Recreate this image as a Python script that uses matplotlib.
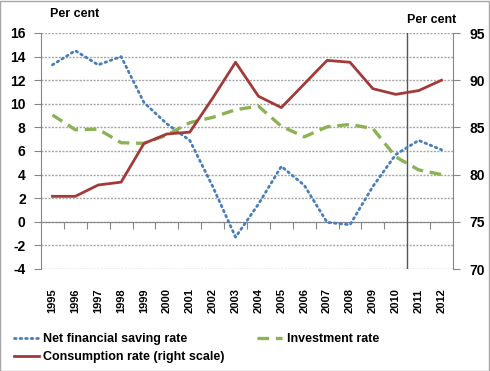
import matplotlib
matplotlib.use("Agg")
import matplotlib.pyplot as plt
from matplotlib.patches import Rectangle
import numpy as np

plt.rcParams['font.family'] = ['Liberation Sans', 'DejaVu Sans']

years = ["1995", "1996", "1997", "1998", "1999", "2000", "2001", "2002", "2003",
         "2004", "2005", "2006", "2007", "2008", "2009", "2010", "2011", "2012"]
net_saving = [13.3, 14.5, 13.3, 14.0, 10.1, 8.3, 6.9, 3.0, -1.3, 1.5, 4.7, 3.1,
              -0.05, -0.25, 3.0, 5.7, 6.9, 6.1]
investment = [9.05, 7.8, 7.85, 6.7, 6.65, 7.35, 8.4, 8.85, 9.5, 9.8, 8.1, 7.2,
              8.05, 8.25, 7.9, 5.5, 4.4, 4.0]
consumption = [77.7, 77.7, 78.9, 79.2, 83.3, 84.3, 84.5, 88.1, 91.9, 88.3, 87.1,
               89.6, 92.1, 91.9, 89.1, 88.5, 88.9, 90.0]
left_ticks = [-4, -2, 0, 2, 4, 6, 8, 10, 12, 14, 16]
right_ticks = [70, 75, 80, 85, 90, 95]

C_BLUE = "#4a7ebb"
C_GREEN = "#8db255"
C_RED = "#a33a3a"
C_AXIS = "#868686"
C_GRID = "#a6a6a6"

fig = plt.figure(figsize=(4.9, 3.71), dpi=100)
ax = fig.add_axes([41/490, (371-269)/371, (453-41)/490, (269-33)/371])
ax2 = ax.twinx()

x = np.arange(len(years))

ax.set_xlim(-0.5, len(years) - 0.5)
ax.set_ylim(-4, 16)
ax2.set_ylim(70, 95)

for t in left_ticks:
    ax.axhline(t, color=C_GRID, lw=1.0, ls=(0, (1.5, 1)), zorder=0)

ln1, = ax.plot(x, net_saving, color=C_BLUE, lw=2.0, ls=(0, (0.6, 1.4)),
               dash_capstyle='round', label="Net financial saving rate", zorder=3)
ln2, = ax.plot(x, investment, color=C_GREEN, lw=2.4, ls=(0, (3.5, 2)),
               label="Investment rate", zorder=3)
ln3, = ax2.plot(x, consumption, color=C_RED, lw=2.0,
                label="Consumption rate (right scale)", zorder=3)

# vertical separator between 2010 and 2011
ax.axvline(15.5, color="#555555", lw=1.0, zorder=2)

# spines
for a in (ax, ax2):
    a.spines['top'].set_visible(False)
    a.spines['bottom'].set_visible(False)
ax.spines['left'].set_color(C_AXIS)
ax.spines['right'].set_visible(False)
ax2.spines['left'].set_visible(False)
ax2.spines['right'].set_color(C_AXIS)

ax.set_yticks(left_ticks)
ax.set_yticklabels([str(t) for t in left_ticks], fontsize=10, fontweight='bold')
ax.tick_params(axis='y', direction='out', length=5, color=C_AXIS, pad=6)
ax2.set_yticks(right_ticks)
ax2.set_yticklabels([str(t) for t in right_ticks], fontsize=10, fontweight='bold')
ax2.tick_params(axis='y', direction='out', length=5, color=C_AXIS, pad=7)

ax.set_xticks(x)
ax.set_xticklabels(years, rotation=90, fontsize=8, fontweight='bold')
ax.tick_params(axis='x', length=0, pad=14)

# zero axis with category boundary ticks
sec = ax.secondary_xaxis(0.2)
sec.set_xticks(np.arange(0.5, len(years) - 1, 1.0))
sec.set_xticklabels([])
sec.tick_params(axis='x', direction='out', length=5, color=C_AXIS)
sec.spines['bottom'].set_color(C_AXIS)

fig.text(50/490, 1 - 14/371, "Per cent", fontsize=9, fontweight='bold', va='center', ha='left')
fig.text(456/490, 1 - 20/371, "Per cent", fontsize=9, fontweight='bold', va='center', ha='right')

leg = fig.legend([ln1, ln3, ln2],
                 ["Net financial saving rate", "Consumption rate (right scale)", "Investment rate"],
                 ncol=2, loc='upper left', bbox_to_anchor=(14/490, 1 - 333/371),
                 frameon=False, prop={'size': 9, 'weight': 'bold'},
                 handlelength=2.0, handletextpad=0.35, columnspacing=2.6,
                 labelspacing=0.5, borderpad=0, borderaxespad=0)

fig.patches.append(Rectangle((0.001, 0.001), 0.997, 0.997, transform=fig.transFigure,
                             fill=False, edgecolor="#a6a6a6", lw=1.0))

fig.savefig("out.png", dpi=100)
